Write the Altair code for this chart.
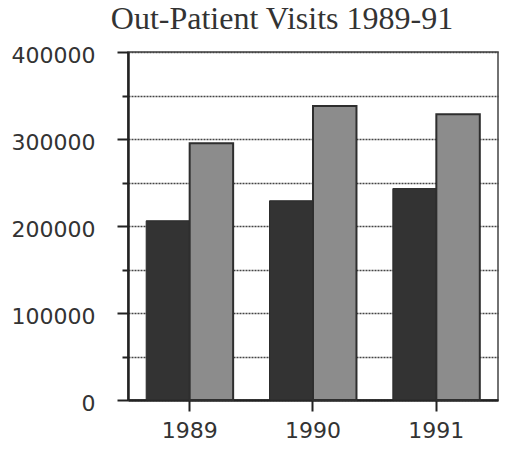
import altair as alt
import pandas as pd

years = ["1989", "1990", "1991"]
series_a = [206000, 229000, 243000]   # dark bars
series_b = [295000, 338000, 328500]   # hatched bars
y_ticks = [0, 50000, 100000, 150000, 200000, 250000, 300000, 350000, 400000]
title_text = "Out-Patient Visits 1989-91"

rows = []
for i, yr in enumerate(years):
    rows.append({"year": yr, "series": "A", "value": series_a[i]})
    rows.append({"year": yr, "series": "B", "value": series_b[i]})
df = pd.DataFrame(rows)

label_font = "DejaVu Sans"

x_enc = alt.X("year:N", sort=years,
              scale=alt.Scale(paddingInner=0.295, paddingOuter=0.1475),
              axis=alt.Axis(title=None, labelAngle=0, labelFont=label_font,
                            labelFontSize=22, labelColor="#333", labelPadding=9,
                            tickSize=11, tickWidth=2, tickColor="#222",
                            domainColor="#222", domainWidth=2.5, grid=False))
xo_enc = alt.XOffset("series:N", scale=alt.Scale(domain=["A", "B"], paddingInner=0, paddingOuter=0))
y_enc = alt.Y("value:Q",
              scale=alt.Scale(domain=[0, 400000], nice=False),
              axis=alt.Axis(title=None, values=y_ticks,
                            labelExpr="datum.value % 100000 == 0 ? datum.value : ''",
                            labelFont=label_font, labelFontSize=22, labelColor="#333",
                            labelPadding=22, labelOffset=3,
                            tickSize={"condition": {"test": "datum.value % 100000 == 0", "value": 11}, "value": 6},
                            tickWidth=2, tickColor="#222",
                            domainColor="#222", domainWidth=2.5,
                            grid=True, gridColor="#444", gridDash=[2, 1], gridWidth=1.5))

base = alt.Chart(df).encode(x=x_enc, xOffset=xo_enc, y=y_enc)

dark = base.transform_filter("datum.series == 'A'").mark_bar(
    fill="#333333", stroke="#2a2a2a", strokeWidth=1)
hatch = base.transform_filter("datum.series == 'B'").mark_bar(
    fill="#8c8c8c", stroke="#2e2e2e", strokeWidth=2)

chart = alt.layer(dark, hatch).properties(
    width=370, height=348,
    autosize="none",
    padding={"left": 120, "top": 44, "right": 1, "bottom": 41},
    title=alt.TitleParams(text=title_text, font="Liberation Serif", fontSize=32,
                          fontWeight="normal", color="#333", anchor="middle",
                          frame="group", dx=-31, offset=7, dy=24, baseline="alphabetic"),
).configure_view(stroke="#444", strokeWidth=1.5)

chart.save("out.html", embed_options={"renderer": "svg", "actions": False})
